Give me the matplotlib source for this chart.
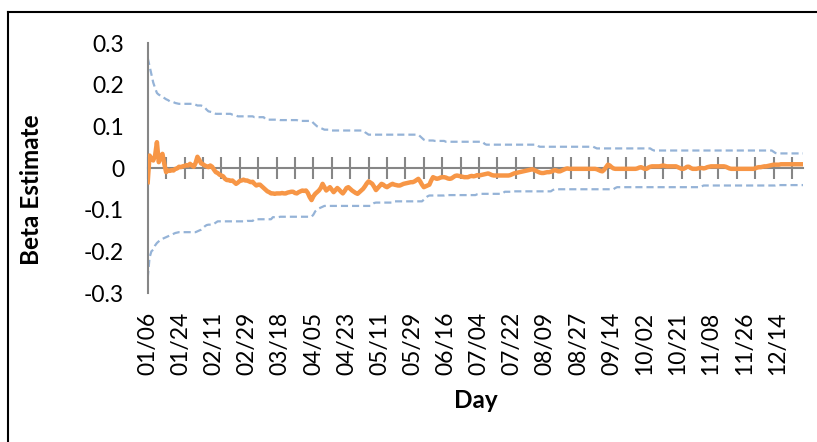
import numpy as np
import matplotlib
matplotlib.use('Agg')
import matplotlib.pyplot as plt
from matplotlib.lines import Line2D

plt.rcParams['font.family'] = ['Lato', 'DejaVu Sans']
plt.rcParams['axes.unicode_minus'] = False

# daily beta estimate (orange), 18 values per row = one label interval
beta = [
    -0.034, 0.030, 0.022, 0.018, 0.030, 0.062, 0.014, 0.026, 0.034, 0.010, -0.010, -0.006, -0.007, -0.005, -0.006, -0.002, -0.001, 0.003,
    0.002, 0.004, 0.005, 0.007, 0.006, 0.010, 0.006, 0.003, 0.012, 0.027, 0.020, 0.011, 0.009, 0.006, 0.004, 0.002, 0.006, 0.003,
    -0.004, -0.010, -0.012, -0.016, -0.018, -0.020, -0.026, -0.029, -0.029, -0.031, -0.030, -0.034, -0.038, -0.035, -0.031, -0.030, -0.028, -0.030,
    -0.030, -0.032, -0.034, -0.033, -0.038, -0.042, -0.040, -0.040, -0.044, -0.048, -0.052, -0.056, -0.058, -0.061, -0.061, -0.062, -0.061, -0.061,
    -0.061, -0.060, -0.061, -0.061, -0.059, -0.058, -0.057, -0.057, -0.060, -0.061, -0.058, -0.056, -0.054, -0.055, -0.054, -0.060, -0.070, -0.077,
    -0.068, -0.062, -0.058, -0.054, -0.048, -0.038, -0.046, -0.054, -0.050, -0.046, -0.052, -0.058, -0.053, -0.048, -0.052, -0.057, -0.061, -0.055,
    -0.048, -0.046, -0.050, -0.054, -0.057, -0.060, -0.062, -0.058, -0.054, -0.050, -0.044, -0.037, -0.032, -0.035, -0.038, -0.045, -0.053, -0.048,
    -0.043, -0.038, -0.040, -0.044, -0.046, -0.043, -0.040, -0.038, -0.040, -0.041, -0.042, -0.042, -0.040, -0.038, -0.037, -0.036, -0.035, -0.034,
    -0.034, -0.032, -0.029, -0.026, -0.032, -0.040, -0.046, -0.044, -0.042, -0.040, -0.030, -0.022, -0.024, -0.026, -0.025, -0.023, -0.022, -0.022,
    -0.023, -0.025, -0.026, -0.025, -0.022, -0.019, -0.018, -0.019, -0.020, -0.021, -0.022, -0.022, -0.022, -0.020, -0.019, -0.020, -0.019, -0.017,
    -0.018, -0.017, -0.016, -0.015, -0.014, -0.013, -0.015, -0.017, -0.018, -0.018, -0.018, -0.018, -0.018, -0.018, -0.018, -0.018, -0.018, -0.017,
    -0.015, -0.013, -0.012, -0.011, -0.010, -0.009, -0.008, -0.007, -0.006, -0.005, -0.004, -0.003, -0.005, -0.007, -0.009, -0.011, -0.012, -0.012,
    -0.011, -0.010, -0.010, -0.009, -0.007, -0.005, -0.006, -0.008, -0.008, -0.006, -0.004, -0.002, -0.001, -0.002, -0.002, -0.002, -0.002, -0.002,
    -0.002, -0.002, -0.002, -0.002, -0.002, -0.002, -0.002, -0.002, -0.002, -0.002, -0.003, -0.005, -0.007, -0.008, -0.004, 0.002, 0.008, 0.006,
    0.002, -0.001, -0.002, -0.002, -0.002, -0.002, -0.002, -0.002, -0.002, -0.002, -0.002, -0.002, -0.002, -0.002, -0.001, 0.001, 0.002, 0.000,
    -0.002, -0.002, 0.001, 0.003, 0.004, 0.004, 0.004, 0.004, 0.004, 0.005, 0.006, 0.005, 0.004, 0.004, 0.004, 0.004, 0.004, 0.004,
    0.002, 0.000, -0.002, -0.002, 0.000, 0.003, 0.003, 0.000, -0.002, -0.002, -0.002, -0.001, 0.000, 0.000, -0.001, 0.000, 0.002, 0.003,
    0.004, 0.004, 0.004, 0.004, 0.004, 0.004, 0.004, 0.004, 0.003, 0.001, -0.001, -0.002, -0.002, -0.002, -0.002, -0.002, -0.002, -0.002,
    -0.002, -0.002, -0.002, -0.002, -0.002, -0.002, -0.001, 0.001, 0.002, 0.002, 0.003, 0.004, 0.004, 0.005, 0.006, 0.007, 0.008, 0.008,
    0.008, 0.008, 0.009, 0.009, 0.009, 0.009, 0.009, 0.009, 0.009, 0.009, 0.009, 0.009, 0.009, 0.009, 0.009,
]

upper = [
    0.264, 0.245, 0.225, 0.205, 0.192, 0.180, 0.176, 0.174, 0.172, 0.168, 0.165, 0.163, 0.160, 0.159, 0.158, 0.156, 0.155, 0.154,
    0.154, 0.154, 0.154, 0.154, 0.154, 0.154, 0.154, 0.154, 0.152, 0.150, 0.150, 0.150, 0.148, 0.145, 0.140, 0.136, 0.135, 0.134,
    0.132, 0.130, 0.130, 0.130, 0.130, 0.130, 0.130, 0.130, 0.130, 0.130, 0.128, 0.127, 0.126, 0.124, 0.124, 0.124, 0.124, 0.124,
    0.124, 0.124, 0.124, 0.124, 0.122, 0.122, 0.122, 0.122, 0.122, 0.122, 0.117, 0.116, 0.116, 0.116, 0.116, 0.116, 0.116, 0.116,
    0.115, 0.115, 0.115, 0.115, 0.115, 0.115, 0.115, 0.115, 0.115, 0.115, 0.113, 0.113, 0.113, 0.113, 0.113, 0.113, 0.113, 0.113,
    0.108, 0.104, 0.100, 0.098, 0.096, 0.094, 0.092, 0.092, 0.092, 0.092, 0.090, 0.090, 0.090, 0.090, 0.090, 0.090, 0.090, 0.090,
    0.090, 0.090, 0.090, 0.090, 0.090, 0.090, 0.090, 0.090, 0.090, 0.090, 0.086, 0.083, 0.080, 0.080, 0.080, 0.080, 0.080, 0.080,
    0.080, 0.080, 0.080, 0.080, 0.080, 0.080, 0.080, 0.080, 0.080, 0.080, 0.080, 0.080, 0.080, 0.080, 0.080, 0.080, 0.080, 0.080,
    0.080, 0.080, 0.080, 0.080, 0.076, 0.072, 0.068, 0.066, 0.066, 0.066, 0.066, 0.066, 0.065, 0.065, 0.065, 0.065, 0.065, 0.065,
    0.063, 0.063, 0.063, 0.063, 0.063, 0.063, 0.063, 0.063, 0.063, 0.063, 0.063, 0.063, 0.063, 0.063, 0.063, 0.063, 0.063, 0.063,
    0.063, 0.063, 0.063, 0.058, 0.056, 0.056, 0.056, 0.056, 0.056, 0.056, 0.056, 0.056, 0.056, 0.056, 0.056, 0.056, 0.056, 0.056,
    0.056, 0.056, 0.056, 0.056, 0.056, 0.056, 0.056, 0.056, 0.056, 0.056, 0.056, 0.056, 0.056, 0.056, 0.053, 0.051, 0.051, 0.051,
    0.051, 0.051, 0.051, 0.051, 0.051, 0.051, 0.051, 0.051, 0.051, 0.051, 0.051, 0.051, 0.051, 0.051, 0.051, 0.051, 0.051, 0.051,
    0.051, 0.051, 0.051, 0.051, 0.051, 0.051, 0.051, 0.051, 0.051, 0.049, 0.047, 0.047, 0.047, 0.047, 0.047, 0.047, 0.047, 0.047,
    0.047, 0.047, 0.047, 0.047, 0.047, 0.047, 0.047, 0.047, 0.047, 0.047, 0.047, 0.047, 0.047, 0.047, 0.047, 0.047, 0.047, 0.047,
    0.047, 0.047, 0.047, 0.047, 0.044, 0.042, 0.042, 0.042, 0.042, 0.042, 0.042, 0.042, 0.042, 0.042, 0.042, 0.042, 0.042, 0.042,
    0.042, 0.042, 0.042, 0.042, 0.042, 0.042, 0.042, 0.042, 0.042, 0.042, 0.042, 0.042, 0.042, 0.042, 0.042, 0.042, 0.042, 0.042,
    0.042, 0.042, 0.042, 0.042, 0.042, 0.042, 0.042, 0.042, 0.042, 0.042, 0.042, 0.042, 0.042, 0.042, 0.042, 0.042, 0.042, 0.042,
    0.042, 0.042, 0.042, 0.042, 0.042, 0.042, 0.042, 0.042, 0.042, 0.042, 0.042, 0.042, 0.042, 0.042, 0.042, 0.042, 0.039, 0.036,
    0.035, 0.035, 0.035, 0.035, 0.035, 0.035, 0.035, 0.035, 0.035, 0.035, 0.035, 0.035, 0.035, 0.035, 0.035,
]

lower = [
    -0.264, -0.215, -0.200, -0.196, -0.186, -0.180, -0.176, -0.172, -0.170, -0.168, -0.166, -0.164, -0.162, -0.160, -0.158, -0.156, -0.155, -0.154,
    -0.154, -0.154, -0.154, -0.154, -0.154, -0.154, -0.154, -0.154, -0.154, -0.152, -0.150, -0.148, -0.144, -0.140, -0.137, -0.136, -0.136, -0.136,
    -0.134, -0.131, -0.128, -0.128, -0.128, -0.128, -0.128, -0.128, -0.128, -0.128, -0.128, -0.128, -0.128, -0.128, -0.128, -0.128, -0.128, -0.128,
    -0.127, -0.127, -0.127, -0.127, -0.123, -0.123, -0.123, -0.123, -0.123, -0.123, -0.123, -0.123, -0.123, -0.123, -0.118, -0.118, -0.118, -0.118,
    -0.117, -0.117, -0.117, -0.117, -0.117, -0.117, -0.117, -0.117, -0.117, -0.117, -0.117, -0.117, -0.117, -0.117, -0.117, -0.117, -0.117, -0.117,
    -0.112, -0.104, -0.100, -0.097, -0.095, -0.093, -0.091, -0.091, -0.091, -0.091, -0.091, -0.091, -0.091, -0.091, -0.091, -0.091, -0.091, -0.091,
    -0.091, -0.091, -0.091, -0.091, -0.091, -0.091, -0.091, -0.091, -0.091, -0.091, -0.091, -0.091, -0.091, -0.091, -0.087, -0.084, -0.083, -0.083,
    -0.083, -0.083, -0.083, -0.083, -0.083, -0.083, -0.083, -0.083, -0.080, -0.080, -0.080, -0.080, -0.080, -0.080, -0.080, -0.080, -0.080, -0.080,
    -0.080, -0.080, -0.080, -0.080, -0.080, -0.080, -0.076, -0.072, -0.068, -0.066, -0.066, -0.066, -0.066, -0.066, -0.066, -0.066, -0.066, -0.066,
    -0.065, -0.065, -0.065, -0.065, -0.065, -0.065, -0.065, -0.065, -0.065, -0.065, -0.065, -0.065, -0.065, -0.065, -0.065, -0.065, -0.065, -0.063,
    -0.062, -0.062, -0.062, -0.062, -0.062, -0.062, -0.062, -0.062, -0.062, -0.062, -0.062, -0.062, -0.062, -0.060, -0.057, -0.057, -0.057, -0.057,
    -0.056, -0.056, -0.056, -0.056, -0.056, -0.056, -0.056, -0.056, -0.056, -0.056, -0.056, -0.056, -0.056, -0.056, -0.056, -0.056, -0.056, -0.056,
    -0.056, -0.056, -0.056, -0.056, -0.053, -0.051, -0.051, -0.051, -0.051, -0.051, -0.051, -0.051, -0.051, -0.051, -0.051, -0.051, -0.051, -0.051,
    -0.051, -0.051, -0.051, -0.051, -0.051, -0.051, -0.051, -0.051, -0.051, -0.051, -0.051, -0.051, -0.051, -0.051, -0.051, -0.051, -0.051, -0.051,
    -0.051, -0.051, -0.048, -0.046, -0.046, -0.046, -0.046, -0.046, -0.046, -0.046, -0.046, -0.046, -0.046, -0.046, -0.046, -0.046, -0.046, -0.046,
    -0.046, -0.046, -0.046, -0.046, -0.046, -0.046, -0.046, -0.046, -0.046, -0.046, -0.046, -0.046, -0.046, -0.046, -0.046, -0.046, -0.046, -0.046,
    -0.046, -0.046, -0.046, -0.046, -0.046, -0.046, -0.046, -0.046, -0.046, -0.046, -0.046, -0.046, -0.046, -0.044, -0.042, -0.042, -0.042, -0.042,
    -0.042, -0.042, -0.042, -0.042, -0.042, -0.042, -0.042, -0.042, -0.042, -0.042, -0.042, -0.042, -0.042, -0.042, -0.042, -0.042, -0.042, -0.042,
    -0.042, -0.042, -0.042, -0.042, -0.042, -0.042, -0.042, -0.042, -0.042, -0.042, -0.042, -0.042, -0.042, -0.042, -0.042, -0.042, -0.042, -0.042,
    -0.041, -0.041, -0.041, -0.041, -0.041, -0.041, -0.041, -0.041, -0.041, -0.041, -0.041, -0.041, -0.041, -0.041, -0.041,
]

# category labels shown every 18th day
day_labels = ['01/06', '01/24', '02/11', '02/29', '03/18', '04/05', '04/23', '05/11', '05/29', '06/16',
              '07/04', '07/22', '08/09', '08/27', '09/14', '10/02', '10/21', '11/08', '11/26', '12/14']
ytick_labels = ['-0.3', '-0.2', '-0.1', '0', '0.1', '0.2', '0.3']
yticks = [-0.3, -0.2, -0.1, 0.0, 0.1, 0.2, 0.3]

gray = '#868686'
x = np.arange(len(beta))

fig = plt.figure(figsize=(8.17, 4.42), dpi=100)
ax = fig.add_axes([0.1808, 0.3371, 0.8021, 0.5656])

ax.plot(x, upper, color='#95B3D7', lw=1.6, dashes=(3.2, 1.8))
ax.plot(x, lower, color='#95B3D7', lw=1.6, dashes=(3.2, 1.8))
ax.plot(x, beta, color='#F79646', lw=3.2, solid_joinstyle='round', zorder=5)

ax.set_xlim(0, len(beta) - 1)
ax.set_ylim(-0.3, 0.3)

for s in ['top', 'right']:
    ax.spines[s].set_visible(False)
ax.spines['left'].set_color(gray)
ax.spines['left'].set_linewidth(1.5)
ax.spines['bottom'].set_position(('data', 0))
ax.spines['bottom'].set_color(gray)
ax.spines['bottom'].set_linewidth(1.5)

# cross tick marks on the zero line every 10 days
ax.set_xticks(np.arange(0, len(beta), 10))
ax.tick_params(axis='x', direction='inout', length=16, width=1.5, color=gray, labelbottom=False)
ax.set_yticks(yticks, labels=ytick_labels)
ax.tick_params(axis='y', length=0, pad=17, labelsize=16.5)

# date labels sit at the bottom of the plot
sec = ax.secondary_xaxis('bottom')
sec.set_xticks(np.arange(0, len(beta), 18)[:len(day_labels)], labels=day_labels, rotation=90)
sec.tick_params(length=0, pad=13.5, labelsize=16.5)
sec.spines['bottom'].set_visible(False)

ax.set_ylabel('Beta Estimate', fontsize=17.5, fontweight='bold', va='center')
ax.yaxis.set_label_coords(-0.1766, 0.412)
ax.set_xlabel('Day', fontsize=17.5, fontweight='bold', va='center')
ax.xaxis.set_label_coords(0.5, -0.432)

# chart frame: only its left and top edges fall inside the crop
fig.add_artist(Line2D([8 / 817, 8 / 817], [0, 1 - 12 / 442], color='black', lw=1.5,
                      transform=fig.transFigure))
fig.add_artist(Line2D([8 / 817, 1], [1 - 12 / 442, 1 - 12 / 442], color='black', lw=1.5,
                      transform=fig.transFigure))

fig.savefig('out.png', dpi=100)
